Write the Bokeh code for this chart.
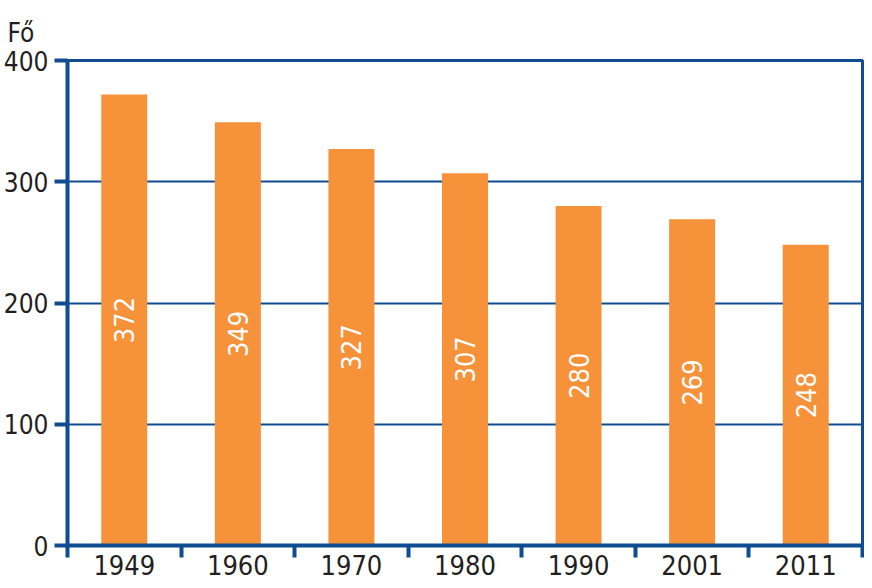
import numpy as np
from bokeh.plotting import figure
from bokeh.models import Range1d, FixedTicker, ColumnDataSource
from bokeh.core.properties import value
from bokeh.embed import file_html
from bokeh.resources import INLINE

years = ["1949", "1960", "1970", "1980", "1990", "2001", "2011"]
counts = [372, 349, 327, 307, 280, 269, 248]
y_ticks = [0, 100, 200, 300, 400]
y_title = "Fő"

ORANGE = "#F6923A"
BLUE = "#0F4C92"
INK = "#231F20"
FONT = "DejaVu Sans Condensed, Roboto"

n = len(years)
centers = [i + 0.5 for i in range(n)]
bounds = list(range(n + 1))

src = ColumnDataSource(dict(
    x=centers,
    top=counts,
    mid=[c / 2 for c in counts],
    lab=[str(c) for c in counts],
))

p = figure(
    width=864, height=585,
    x_range=Range1d(0, n), y_range=Range1d(0, 400),
    output_backend="svg", toolbar_location=None,
    min_border=0, min_border_left=67, min_border_top=60,
    min_border_right=2, min_border_bottom=40,
    title=y_title,
)
p.background_fill_color = "white"
p.border_fill_color = "white"
p.outline_line_color = BLUE
p.outline_line_width = 3

p.title.align = "left"
p.title.offset = -60
p.title.standoff = 26
p.title.text_font = FONT
p.title.text_font_size = "26px"
p.title.text_font_style = "normal"
p.title.text_color = INK

p.vbar(x="x", top="top", bottom=0, width=0.405, source=src,
       fill_color=ORANGE, line_color=None)

p.text(x="x", y="mid", text="lab", source=src, angle=np.pi / 2,
       text_align="center", text_baseline="middle",
       text_color="white", text_font=value(FONT), text_font_size="27px")

# x axis
xa = p.xaxis[0]
xa.ticker = FixedTicker(ticks=centers, minor_ticks=bounds)
xa.major_label_overrides = {c: y for c, y in zip(centers, years)}
xa.major_tick_out = 0
xa.major_tick_in = 0
xa.minor_tick_out = 12
xa.minor_tick_in = 0
xa.minor_tick_line_color = BLUE
xa.minor_tick_line_width = 4
xa.axis_line_color = BLUE
xa.axis_line_width = 4
xa.major_label_text_font = FONT
xa.major_label_text_font_size = "27px"
xa.major_label_text_color = INK
xa.major_label_standoff = -3

# y axis
ya = p.yaxis[0]
ya.ticker = FixedTicker(ticks=y_ticks, minor_ticks=[])
ya.major_tick_out = 13
ya.major_tick_in = 0
ya.major_tick_line_color = BLUE
ya.major_tick_line_width = 4
ya.axis_line_color = BLUE
ya.axis_line_width = 4
ya.major_label_text_font = FONT
ya.major_label_text_font_size = "26px"
ya.major_label_text_color = INK
ya.major_label_standoff = 6

p.xgrid.grid_line_color = None
p.ygrid.ticker = FixedTicker(ticks=[100, 200, 300])
p.ygrid.grid_line_color = BLUE
p.ygrid.grid_line_width = 2

open("out.html", "w").write(file_html(p, INLINE))
